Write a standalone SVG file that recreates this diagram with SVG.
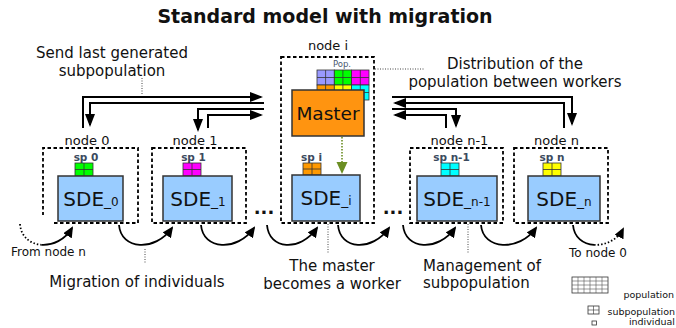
<svg xmlns="http://www.w3.org/2000/svg" width="676" height="328" viewBox="0 0 676 328">
<style>
text{font-family:"DejaVu Sans","Liberation Sans",sans-serif;fill:#111}
.ttl{font-size:19px;font-weight:bold}
.ann{font-size:15px}
.nl{font-size:13px}
.sm{font-size:12px}
.lg{font-size:9.5px}
.sp{font-size:10.5px;font-weight:bold;fill:#3b4a5e}
.sde{font-size:20px}
.nbox{fill:none;stroke:#000;stroke-width:1.8;stroke-dasharray:3.5 2.5}
.box{fill:#99ccff;stroke:#333;stroke-width:1.5}
.conn{fill:none;stroke:#000;stroke-width:2}
.curve{fill:none;stroke:#000;stroke-width:1.8}
.dotc{fill:none;stroke:#000;stroke-width:1.8;stroke-dasharray:1.5 2}
.lead{fill:none;stroke:#444;stroke-width:1;stroke-dasharray:1 1.5}
.g{stroke:#333;stroke-width:0.8}
</style>
<defs>
<marker id="ah" markerWidth="13" markerHeight="10" refX="11" refY="5" orient="auto" markerUnits="userSpaceOnUse"><path d="M0,0 L13,5 L0,10 z" fill="#000"/></marker>
<marker id="ch" markerWidth="11" markerHeight="10" refX="9" refY="5" orient="auto" markerUnits="userSpaceOnUse"><path d="M0,0 L11,5 L0,10 z" fill="#000"/></marker>
</defs>
<rect width="676" height="328" fill="#fff"/>
<text class="ttl" x="325" y="23" text-anchor="middle">Standard model with migration</text>

<g id="node-i">
<text class="nl" x="328" y="50" text-anchor="middle">node i</text>
<rect class="nbox" x="281" y="57" width="93" height="166"/>
<text x="342" y="67" text-anchor="middle" style="font-size:8.5px;fill:#4a5a70">Pop.</text>
<g class="g">
<rect x="317" y="70" width="17.3" height="15" fill="#9999ff"/>
<rect x="334.3" y="70" width="17.3" height="15" fill="#00ff00"/>
<rect x="351.6" y="70" width="17.4" height="15" fill="#ff00ff"/>
<rect x="317" y="85" width="17.3" height="15" fill="#ff9900"/>
<rect x="334.3" y="85" width="17.3" height="15" fill="#ffff00"/>
<rect x="351.6" y="85" width="17.4" height="15" fill="#00ffff"/>
<path d="M325.6,70V100M342.9,70V100M360.3,70V100M317,77.5H369M317,92.5H369" fill="none"/>
</g>
<rect x="292" y="90" width="72" height="46" fill="#ff9410" stroke="#333" stroke-width="1.5"/>
<text x="328" y="120" text-anchor="middle" style="font-size:18.5px">Master</text>
<path d="M342,137V163" fill="none" stroke="#6b8e23" stroke-width="1.6" stroke-dasharray="1.5 1.5"/>
<path d="M336.5,162H347.5L342,174z" fill="#6b8e23"/>
<text class="sp" x="311.5" y="161" text-anchor="middle">sp i</text>
<g class="g"><rect x="303" y="163" width="18" height="12" fill="#ff9900"/><path d="M312,163V175M303,169H321"/></g>
<rect class="box" x="292" y="175" width="68" height="46"/>
<text class="sde" x="326" y="205" text-anchor="middle">SDE<tspan style="font-size:14px">_</tspan><tspan style="font-size:12px">i</tspan></text>
</g>

<g id="node-0">
<text class="nl" x="87" y="145" text-anchor="middle">node 0</text>
<path class="nbox" d="M54,223H138V148H43V215"/>
<text class="sp" x="86" y="161" text-anchor="middle">sp 0</text>
<g class="g"><rect x="75" y="163" width="18" height="13" fill="#00ff00"/><path d="M84,163V176M75,169.5H93"/></g>
<rect class="box" x="58" y="176" width="65" height="45"/>
<text class="sde" x="91" y="206" text-anchor="middle">SDE<tspan style="font-size:14px">_</tspan><tspan style="font-size:12px">0</tspan></text>
</g>

<g id="node-1">
<text class="nl" x="195" y="145" text-anchor="middle">node 1</text>
<rect class="nbox" x="152" y="148" width="94" height="75"/>
<text class="sp" x="193.5" y="161" text-anchor="middle">sp 1</text>
<g class="g"><rect x="183" y="163" width="18" height="13" fill="#ff00ff"/><path d="M192,163V176M183,169.5H201"/></g>
<rect class="box" x="163" y="176" width="69" height="45"/>
<text class="sde" x="198" y="206" text-anchor="middle">SDE<tspan style="font-size:14px">_</tspan><tspan style="font-size:12px">1</tspan></text>
</g>

<g id="node-n-1">
<text class="nl" x="459.5" y="145" text-anchor="middle">node n-1</text>
<rect class="nbox" x="410" y="148" width="93" height="75"/>
<text class="sp" x="451.5" y="161" text-anchor="middle">sp n-1</text>
<g class="g"><rect x="441" y="163" width="18" height="13" fill="#00ffff"/><path d="M450,163V176M441,169.5H459"/></g>
<rect class="box" x="417" y="176" width="80" height="45"/>
<text class="sde" x="457" y="206" text-anchor="middle">SDE<tspan style="font-size:14px">_</tspan><tspan style="font-size:12px">n-1</tspan></text>
</g>

<g id="node-n">
<text class="nl" x="556.5" y="145" text-anchor="middle">node n</text>
<rect class="nbox" x="514" y="148" width="94" height="75"/>
<text class="sp" x="552" y="161" text-anchor="middle">sp n</text>
<g class="g"><rect x="543" y="163" width="18" height="13" fill="#ffff00"/><path d="M552,163V176M543,169.5H561"/></g>
<rect class="box" x="528" y="176" width="72" height="45"/>
<text class="sde" x="564" y="206" text-anchor="middle">SDE<tspan style="font-size:14px">_</tspan><tspan style="font-size:12px">n</tspan></text>
</g>

<g id="ellipses">
<text x="264" y="214" text-anchor="middle" style="font-size:18px;font-weight:bold">...</text>
<text x="393" y="214" text-anchor="middle" style="font-size:18px;font-weight:bold">...</text>
</g>

<g id="connectors">
<path class="conn" d="M83,128V97H261" marker-end="url(#ah)"/>
<path class="conn" d="M264,103H90V125" marker-end="url(#ah)"/>
<path class="conn" d="M264,109H198V130" marker-end="url(#ah)"/>
<path class="conn" d="M208,128V115H261" marker-end="url(#ah)"/>
<path class="conn" d="M392,97H572V124" marker-end="url(#ah)"/>
<path class="conn" d="M564,128V103H395" marker-end="url(#ah)"/>
<path class="conn" d="M392,109H456V126" marker-end="url(#ah)"/>
<path class="conn" d="M446,128V115H395" marker-end="url(#ah)"/>

<path class="dotc" d="M20,224C21,237 30.5,244 41.5,244.8"/>
<path class="curve" d="M41.5,244.8C52.5,245.5 65,240 72,228" marker-end="url(#ch)"/>
<path class="curve" d="M119,225C121,250 155,252 172,228" marker-end="url(#ch)"/>
<path class="curve" d="M201,225C203,250 237,252 254,228" marker-end="url(#ch)"/>
<path class="curve" d="M267,225C269,250 300,252 317,228" marker-end="url(#ch)"/>
<path class="curve" d="M338,225C340,250 372,252 389,228" marker-end="url(#ch)"/>
<path class="curve" d="M403,225C405,250 438,252 455,228" marker-end="url(#ch)"/>
<path class="curve" d="M481,225C483,250 519,252 536,228" marker-end="url(#ch)"/>
<path class="curve" d="M573,225C574,237.5 583.3,244.3 594.1,244.9"/>
<path class="dotc" d="M594.1,244.9C605,245.5 617.5,240 623,229" marker-end="url(#ch)"/>

<path class="lead" d="M142,78V95"/>
<path class="lead" d="M375,69H424"/>
<path class="lead" d="M145,249V263"/>
<path class="lead" d="M328,224V254"/>
<path class="lead" d="M468,224V254"/>
</g>

<g id="labels">
<text class="ann" x="112" y="58" text-anchor="middle">Send last generated</text>
<text class="ann" x="112" y="76" text-anchor="middle">subpopulation</text>
<text class="ann" x="515" y="69" text-anchor="middle">Distribution of the</text>
<text class="ann" x="515" y="87" text-anchor="middle">population between workers</text>
<text class="sm" x="11" y="256">From node n</text>
<text class="sm" x="569" y="257">To node 0</text>
<text class="ann" x="137" y="287" text-anchor="middle">Migration of individuals</text>
<text class="ann" x="332" y="271" text-anchor="middle">The master</text>
<text class="ann" x="332" y="289" text-anchor="middle">becomes a worker</text>
<text class="ann" x="423" y="271">Management of</text>
<text class="ann" x="423" y="288">subpopulation</text>
</g>

<g id="legend">
<rect x="572" y="277" width="36" height="16" fill="#fff" stroke="#333" stroke-width="0.8"/>
<path d="M578,277V293M584,277V293M590,277V293M596,277V293M602,277V293M572,281H608M572,285H608M572,289H608" stroke="#555" stroke-width="0.6" fill="none"/>
<text class="lg" x="674" y="298" text-anchor="end">population</text>
<rect x="588" y="306" width="11" height="8" fill="#fff" stroke="#333" stroke-width="0.8"/>
<path d="M593.5,306V314M588,310H599" stroke="#333" stroke-width="0.6" fill="none"/>
<text class="lg" x="675" y="315" text-anchor="end">subpopulation</text>
<rect x="592" y="321" width="4.5" height="4" fill="#fff" stroke="#333" stroke-width="0.8"/>
<text class="lg" x="675" y="325" text-anchor="end">individual</text>
</g>
</svg>
